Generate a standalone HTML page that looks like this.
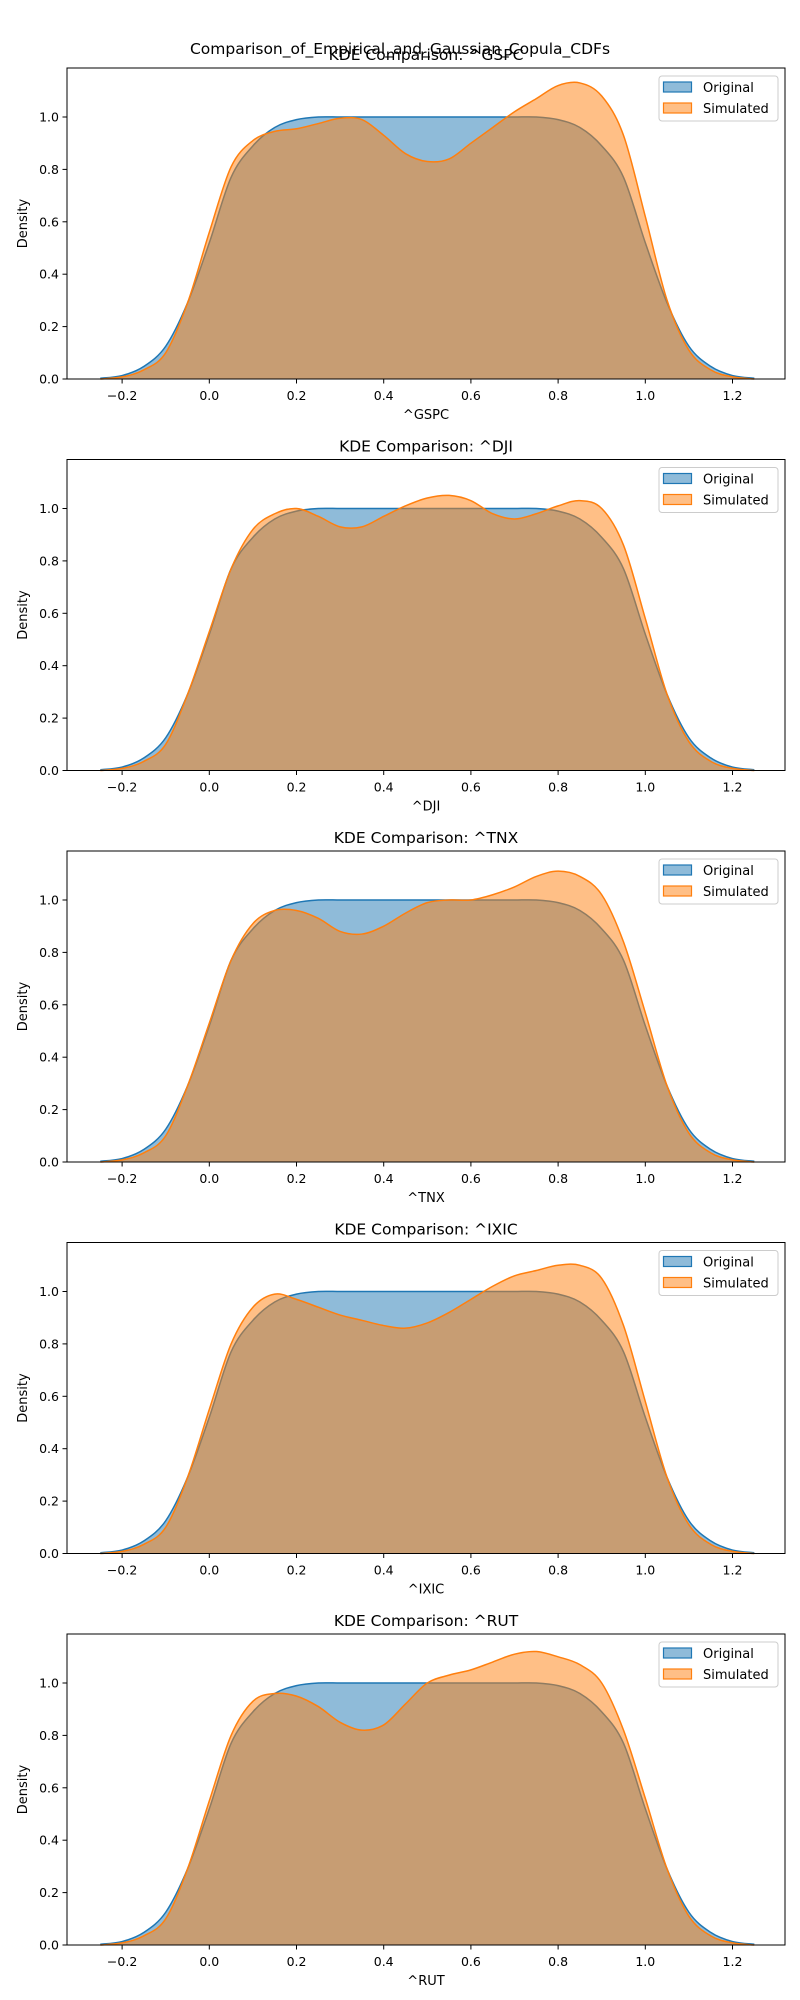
<!DOCTYPE html>
<html><head><meta charset="utf-8"><style>
html,body{margin:0;padding:0;background:#fff;}
svg{display:block;font-family:"DejaVu Sans","Liberation Sans",sans-serif;}
</style></head><body>
<svg id="fig" width="800" height="2000" viewBox="0 0 800 2000">
<text x="400" y="54" text-anchor="middle" font-size="15.5" fill="#000">Comparison_of_Empirical_and_Gaussian_Copula_CDFs</text>
</svg>
<script>
const xGrid = [-0.25,-0.2,-0.15,-0.1,-0.05,0,0.05,0.1,0.15,0.2,0.25,0.3,0.35,0.4,0.45,0.5,0.55,0.6,0.65,0.7,0.75,0.8,0.85,0.9,0.95,1.0,1.05,1.1,1.15,1.2,1.25];
const tickX = [-0.2,0.0,0.2,0.4,0.6,0.8,1.0,1.2];
const tickXLabels = ["\u22120.2","0.0","0.2","0.4","0.6","0.8","1.0","1.2"];
const tickY = [0,0.2,0.4,0.6,0.8,1.0];
const tickYLabels = ["0.0","0.2","0.4","0.6","0.8","1.0"];
const tickers = ["^GSPC","^DJI","^TNX","^IXIC","^RUT"];
const originalDensity = [0.003,0.013,0.048,0.125,0.29,0.52,0.77,0.89,0.96,0.99,1.0,1.0,1.0,1.0,1.0,1.0,1.0,1.0,1.0,1.0,1.0,0.99,0.96,0.89,0.77,0.52,0.29,0.125,0.048,0.013,0.003];
const simGSPC = [0,0.008,0.035,0.1,0.29,0.56,0.81,0.91,0.945,0.955,0.975,0.995,0.99,0.93,0.86,0.83,0.84,0.9,0.96,1.02,1.07,1.12,1.13,1.08,0.93,0.62,0.3,0.11,0.035,0.008,0];
const simDJI = [0,0.008,0.035,0.1,0.29,0.53,0.77,0.92,0.98,1.0,0.97,0.93,0.93,0.97,1.01,1.04,1.05,1.03,0.98,0.96,0.98,1.01,1.03,1.0,0.86,0.58,0.29,0.11,0.035,0.008,0];
const simTNX = [0,0.008,0.035,0.1,0.29,0.53,0.77,0.91,0.96,0.96,0.93,0.88,0.87,0.9,0.95,0.99,1.0,1.0,1.02,1.05,1.09,1.11,1.09,1.02,0.84,0.57,0.29,0.11,0.035,0.008,0];
const simIXIC = [0,0.008,0.035,0.1,0.29,0.55,0.8,0.94,0.99,0.97,0.94,0.91,0.89,0.87,0.86,0.88,0.92,0.97,1.02,1.06,1.08,1.1,1.1,1.05,0.87,0.58,0.29,0.11,0.035,0.008,0];
const simRUT = [0,0.008,0.035,0.1,0.29,0.55,0.8,0.93,0.96,0.95,0.91,0.85,0.82,0.84,0.92,1.0,1.03,1.05,1.08,1.11,1.12,1.1,1.07,1.0,0.82,0.56,0.29,0.11,0.035,0.008,0];
const simSeries = [simGSPC, simDJI, simTNX, simIXIC, simRUT];

const NS = "http://www.w3.org/2000/svg";
const svg = document.getElementById('fig');
const L = 67, R = 785, H = 311, step = 391.5;
const xmin = -0.3264, xmax = 1.3204, ymax = 1.187;
function sx(v){ return L + (v - xmin) / (xmax - xmin) * (R - L); }
function mk(tag, attrs, parent){ const e = document.createElementNS(NS, tag); for (const k in attrs) e.setAttribute(k, attrs[k]); (parent||svg).appendChild(e); return e; }
function smoothPath(pts){
  let d = "M" + pts[0][0].toFixed(2) + "," + pts[0][1].toFixed(2);
  for (let i = 0; i < pts.length - 1; i++) {
    const p0 = pts[i-1] || pts[i], p1 = pts[i], p2 = pts[i+1], p3 = pts[i+2] || p2;
    const c1 = [p1[0] + (p2[0]-p0[0])/6, p1[1] + (p2[1]-p0[1])/6];
    const c2 = [p2[0] - (p3[0]-p1[0])/6, p2[1] - (p3[1]-p1[1])/6];
    d += " C" + c1[0].toFixed(2)+","+c1[1].toFixed(2)+" "+c2[0].toFixed(2)+","+c2[1].toFixed(2)+" "+p2[0].toFixed(2)+","+p2[1].toFixed(2);
  }
  return d;
}
for (let i = 0; i < tickers.length; i++) {
  const top = 68 + i*step, bot = top + H;
  const sy = v => bot - v / ymax * H;
  const g = mk('g', {});
  
  
  const series = [[originalDensity, '#1f77b4', 'original'], [simSeries[i], '#ff7f0e', 'simulated']];
  for (const [vals, col, nm] of series) {
    const pts = xGrid.map((x, k) => [sx(x), sy(vals[k])]);
    const line = smoothPath(pts);
    const area = mk('path', {d: line + " L" + sx(xGrid[xGrid.length-1]) + "," + bot + " L" + sx(xGrid[0]) + "," + bot + " Z", fill: col, 'fill-opacity': 0.5, stroke: 'none'}, g);
    
    
    const ln = mk('path', {d: line, fill: 'none', stroke: col, 'stroke-width': 1.5}, g);
    
    
  }
  const frame = mk('rect', {x: L, y: top, width: R-L, height: H, fill: 'none', stroke: '#000', 'stroke-width': 1}, g);
  
  
  tickX.forEach((v, k) => {
    mk('line', {x1: sx(v), x2: sx(v), y1: bot, y2: bot+4.5, stroke: '#000'}, g);
    const t = mk('text', {x: sx(v), y: bot+21, 'text-anchor': 'middle', 'font-size': 12.5}, g);
    t.textContent = tickXLabels[k];
    
    
  });
  tickY.forEach((v, k) => {
    mk('line', {x1: L-4.5, x2: L, y1: sy(v), y2: sy(v), stroke: '#000'}, g);
    const t = mk('text', {x: L-8, y: sy(v)+4.5, 'text-anchor': 'end', 'font-size': 12.5}, g);
    t.textContent = tickYLabels[k];
    
    
  });
  const xl = mk('text', {x: (L+R)/2, y: bot+40, 'text-anchor': 'middle', 'font-size': 13}, g);
  xl.textContent = tickers[i];
  
  
  const yl = mk('text', {x: 0, y: 0, 'text-anchor': 'middle', 'font-size': 13, transform: 'translate(27,' + (top+H/2) + ') rotate(-90)'}, g);
  yl.textContent = 'Density';
  
  
  const tt = mk('text', {x: (L+R)/2, y: top-8, 'text-anchor': 'middle', 'font-size': 15.5}, g);
  tt.textContent = 'KDE Comparison: ' + tickers[i];
  
  
  const lg = mk('g', {}, g);
  
  
  mk('rect', {x: 659, y: top+8, width: 119, height: 45, rx: 3, fill: '#fff', 'fill-opacity': 0.8, stroke: '#ccc'}, lg);
  [['Original','#1f77b4'],['Simulated','#ff7f0e']].forEach(([lab, col], k) => {
    const yy = top + 14 + k*21;
    mk('rect', {x: 663.5, y: yy, width: 28, height: 10, fill: col, 'fill-opacity': 0.5, stroke: col, 'stroke-width': 1.2}, lg);
    const t = mk('text', {x: 703, y: yy+10, 'font-size': 13}, lg);
    t.textContent = lab;
    
    
  });
}
</script>
</body></html>
